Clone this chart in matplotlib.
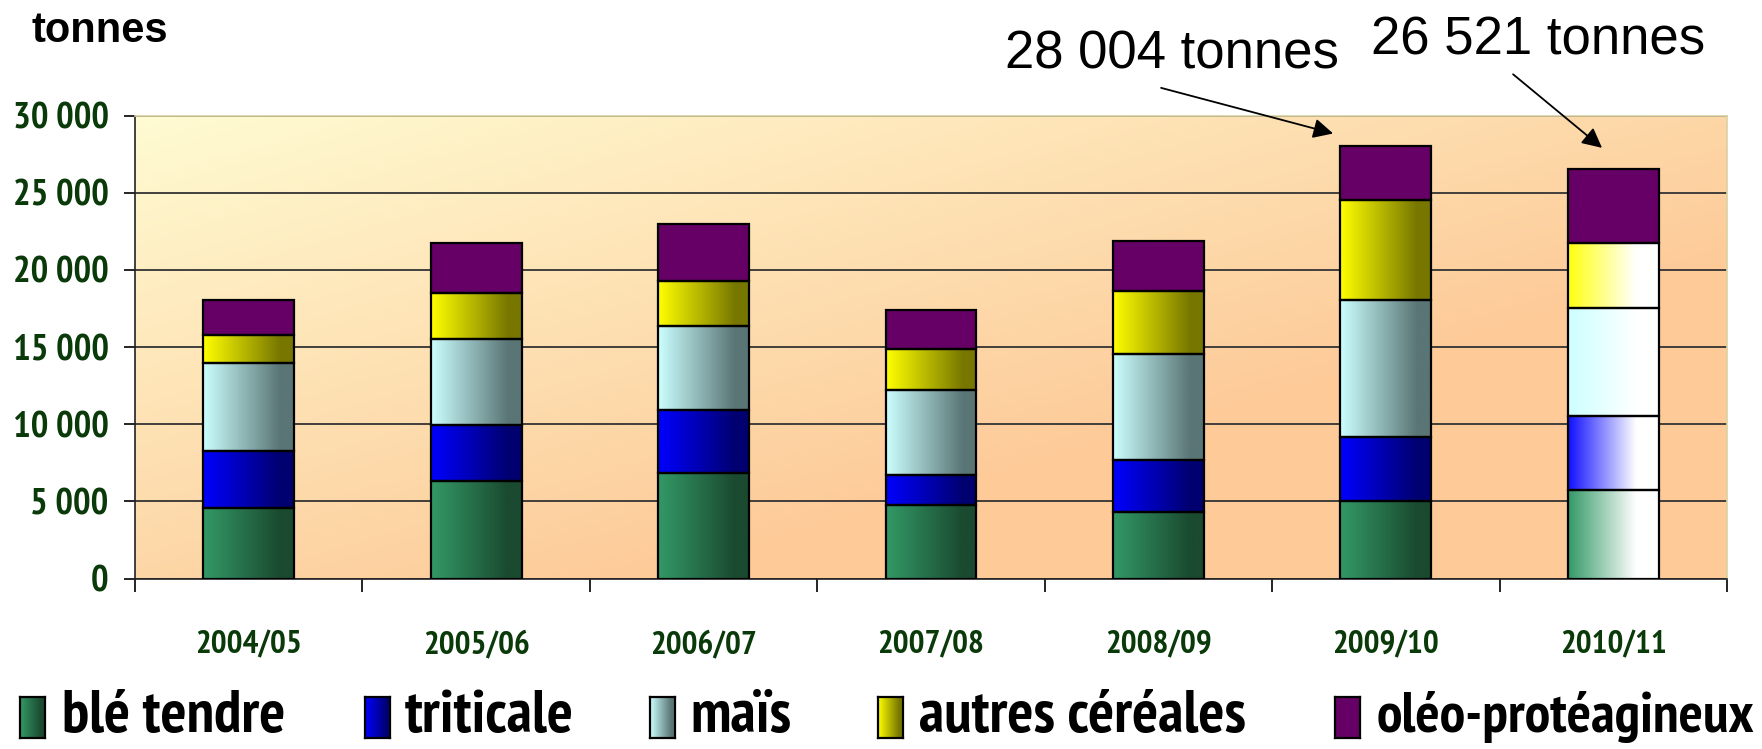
import numpy as np
import matplotlib.pyplot as plt
from matplotlib import font_manager
from matplotlib.font_manager import FontProperties
from matplotlib.colors import to_rgb

seasons = ['2004/05', '2005/06', '2006/07', '2007/08', '2008/09', '2009/10', '2010/11']
ble_tendre = [4570, 6300, 6830, 4740, 4290, 5040, 5730]
triticale = [3690, 3640, 4100, 1990, 3410, 4110, 4780]
mais = [5740, 5590, 5455, 5470, 6860, 8935, 7030]
autres_cereales = [1800, 2950, 2910, 2650, 4080, 6460, 4190]
oleo_proteagineux = [2270, 3280, 3700, 2545, 3240, 3459, 4791]
series_names = ['blé tendre', 'triticale', 'maïs', 'autres céréales', 'oléo-protéagineux']
totals_text = ['28 004 tonnes', '26 521 tonnes']

W, H = 1762, 749
SANS = ['Liberation Sans', 'DejaVu Sans']
GREEN_TXT = '#0a3a0a'


def find_narrow_bold():
    # look for a condensed / narrow bold face among installed fonts
    best = None
    for f in font_manager.fontManager.ttflist:
        name = f.name + ' ' + str(f.stretch) + ' ' + f.fname
        is_cond = ('Narrow' in name or 'ondensed' in name)
        is_bold = (f.weight in ('bold', 'heavy', 'black') or
                   (isinstance(f.weight, int) and f.weight >= 600) or 'Bold' in f.fname)
        if is_cond and is_bold and 'Italic' not in f.fname and 'Oblique' not in f.fname:
            rank = 0 if 'Narrow' in name else (1 if 'Roboto' in name else 2)
            if best is None or rank < best[0]:
                best = (rank, f.fname)
    if best:
        return FontProperties(fname=best[1])
    return FontProperties(family=SANS, weight='bold')


NB = find_narrow_bold()

# gradient start/end colours per series
grads = [('#339966', '#1a4a30'), ('#0000ff', '#000070'), ('#ccffff', '#5a7575'),
         ('#ffff00', '#777700'), ('#660066', '#660066')]
grads_last = [('#339966', '#ffffff'), ('#1010ff', '#ffffff'), ('#ccffff', '#ffffff'),
              ('#ffff10', '#ffffff'), ('#660066', '#660066')]


def grad_img(c0, c1, stop=0.85):
    t = np.clip(np.linspace(0, 1, 256) / stop, 0, 1)
    cols = (1 - t)[:, None] * np.array(to_rgb(c0)) + t[:, None] * np.array(to_rgb(c1))
    return cols[None, :, :]


def px(x):
    return x / W


def py(y):
    return 1 - y / H


fig = plt.figure(figsize=(W / 100, H / 100), dpi=100)
renderer = fig.canvas.get_renderer()


def size_for(text, width_px):
    # font size that gives the text the wanted pixel width
    tt = fig.text(0, 0, text, fontproperties=NB, fontsize=20)
    w = tt.get_window_extent(renderer).width
    tt.remove()
    return 20 * width_px / w


ytick_size = size_for('30 000', 97)
xtick_size = size_for('2004/05', 107)
legend_size = size_for('blé tendre', 224)
last_size = min(legend_size, size_for(series_names[-1], W - 1377 - 6))

ax = fig.add_axes([px(135), py(578.5), px(1727) - px(135), py(115.7) - py(578.5)])

# background gradient
u = np.linspace(0, 1, 200)[None, :]
v = np.linspace(0, 1, 120)[:, None]
t = np.clip(0.75 * u + 0.75 * v, 0, 1)[:, :, None]
bg = (1 - t) * np.array(to_rgb('#fffbd2')) + t * np.array(to_rgb('#fdca98'))
ax.imshow(bg, extent=(0, 1, 0, 1), transform=ax.transAxes, aspect='auto', zorder=0)

x = np.arange(len(seasons))
data = [ble_tendre, triticale, mais, autres_cereales, oleo_proteagineux]
bottom = np.zeros(len(seasons))
for k, vals in enumerate(data):
    bars = ax.bar(x, vals, 0.4, bottom=bottom, facecolor='none', edgecolor='black',
                  linewidth=1.6, zorder=3)
    for i, p in enumerate(bars.patches):
        c0, c1 = grads_last[k] if i == len(seasons) - 1 else grads[k]
        stop = 0.75 if i == len(seasons) - 1 else 0.85
        im = ax.imshow(grad_img(c0, c1, stop), aspect='auto', zorder=2, interpolation='bilinear',
                       extent=(p.get_x(), p.get_x() + p.get_width(), p.get_y(), p.get_y() + p.get_height()))
        im.set_clip_path(p)
    bottom += np.array(vals)

ax.set_xlim(-0.5, len(seasons) - 0.5)
ax.set_ylim(0, 30000)
ax.set_yticks(np.arange(0, 30001, 5000))
ax.set_yticklabels([f'{v:,}'.replace(',', ' ') for v in range(0, 30001, 5000)],
                   fontproperties=NB, fontsize=ytick_size, color=GREEN_TXT)
ax.set_xticks(x)
ax.set_xticklabels(seasons, fontproperties=NB, fontsize=xtick_size, color=GREEN_TXT)
ax.set_xticks(np.arange(-0.5, len(seasons)), minor=True)
ax.tick_params(axis='x', which='major', length=0, pad=37)
ax.tick_params(axis='x', which='minor', length=9, width=1.2, direction='out')
ax.tick_params(axis='y', length=8, width=1.2, pad=11)
ax.yaxis.grid(True, color='#333333', linewidth=1.3, zorder=1)
ax.set_axisbelow(True)
for s in ['left', 'bottom']:
    ax.spines[s].set_color('#222222')
    ax.spines[s].set_linewidth(1.2)
for s in ['top', 'right']:
    ax.spines[s].set_color('#d9d2a2')
    ax.spines[s].set_linewidth(1.2)

fig.text(px(31), py(31), 'tonnes', fontfamily=SANS, fontweight='bold', fontsize=30,
         va='center', ha='left')

# totals with arrows
ax.text(4.06, 33950, totals_text[0], fontfamily=SANS, fontsize=38, ha='center', va='center')
ax.text(5.67, 34850, totals_text[1], fontfamily=SANS, fontsize=38, ha='center', va='center')
ax.annotate('', xy=(4.78, 28800), xytext=(4.0, 31850), annotation_clip=False,
            arrowprops=dict(arrowstyle='-|>', color='black', lw=1.3, mutation_scale=30))
ax.annotate('', xy=(5.96, 27800), xytext=(5.55, 32800), annotation_clip=False,
            arrowprops=dict(arrowstyle='-|>', color='black', lw=1.3, mutation_scale=30))

# legend
marker_x = [20, 365, 650, 878, 1335]
text_x = [62, 405, 690, 919, 1377]
for k, name in enumerate(series_names):
    lax = fig.add_axes([px(marker_x[k]), py(738), px(25), 41 / H])
    lax.imshow(grad_img(*grads[k]), aspect='auto', interpolation='bilinear')
    lax.set_xticks([])
    lax.set_yticks([])
    for s in lax.spines.values():
        s.set_linewidth(1.6)
    size = last_size if k == len(series_names) - 1 else legend_size
    fig.text(px(text_x[k]), py(717), name, fontproperties=NB,
             fontsize=size, va='center', ha='left')

fig.savefig('out.png', dpi=100)
